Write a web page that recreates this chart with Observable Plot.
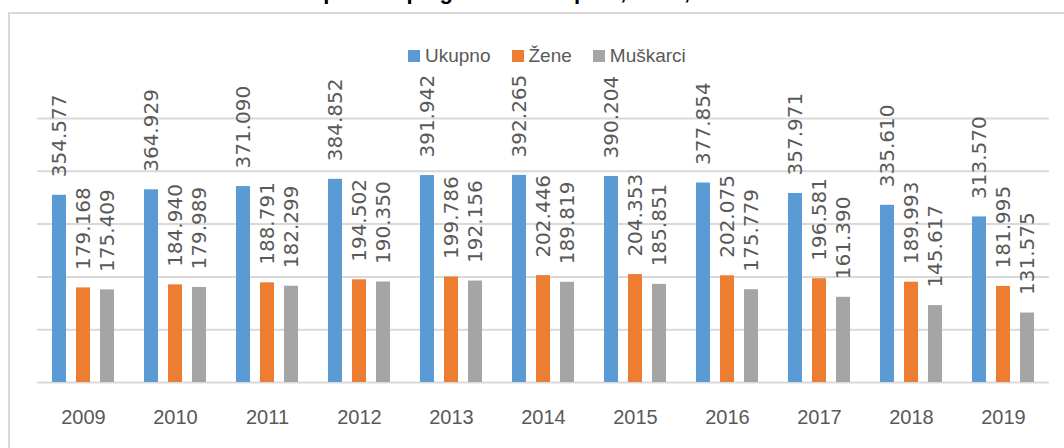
<!DOCTYPE html>
<html><head><meta charset="utf-8">
<script src="https://cdn.jsdelivr.net/npm/d3@7"></script>
<script src="https://cdn.jsdelivr.net/npm/@observablehq/plot@0.6"></script>
<style>
body{margin:0;background:#fff;}
#wrap{position:relative;width:1064px;height:448px;overflow:hidden;background:#fff;}
#title{position:absolute;left:272px;top:-21px;font:bold 22px "Liberation Sans",sans-serif;color:#000;white-space:nowrap;line-height:25px;}
#frame{position:absolute;left:8px;top:12px;width:1100px;height:500px;border:2px solid #d9d9d9;box-sizing:border-box;}
#chart{position:absolute;left:0;top:0;}
#legend{position:absolute;top:45px;left:408px;display:flex;align-items:center;font:19px "Liberation Sans",sans-serif;color:#595959;}
#legend .item{display:flex;align-items:center;margin-right:21px;}
#legend .sw{width:12px;height:12px;margin-right:5px;}
</style>
</head><body>
<div id="wrap">
  <div id="title">Nezaposleni po godinama i spolu, FBiH, 2009-2019</div>
  <div id="frame"></div>
  <div id="chart"></div>
  <div id="legend"></div>
</div>
<script>
const years = ["2009","2010","2011","2012","2013","2014","2015","2016","2017","2018","2019"];
const ukupno = [354577, 364929, 371090, 384852, 391942, 392265, 390204, 377854, 357971, 335610, 313570];
const zene = [179168, 184940, 188791, 194502, 199786, 202446, 204353, 202075, 196581, 189993, 181995];
const muskarci = [175409, 179989, 182299, 190350, 192156, 189819, 185851, 175779, 161390, 145617, 131575];
const series = ["Ukupno", "Žene", "Muškarci"];
const colors = ["#5B9BD5", "#ED7D31", "#A5A5A5"];
const gridTicks = [0, 100000, 200000, 300000, 400000, 500000];

const valuesBySeries = [ukupno, zene, muskarci];
const rows = [];
years.forEach((yr, i) => {
  series.forEach((s, j) => rows.push({year: yr, series: s, value: valuesBySeries[j][i]}));
});
const fmt = v => d3.format(",")(v).replace(/,/g, ".");

const chart = Plot.plot({
  width: 1064, height: 448,
  marginLeft: 35, marginRight: 13, marginTop: 118, marginBottom: 66,
  fx: {domain: years, paddingInner: 0, paddingOuter: 0, label: null, axis: null},
  x: {domain: series, paddingInner: 0.4, paddingOuter: 0.547, axis: null},
  y: {domain: [0, 500000], axis: null},
  color: {domain: series, range: colors},
  marks: [
    Plot.ruleY(gridTicks, {stroke: "#d9d9d9", strokeWidth: 2}),
    Plot.barY(rows, {fx: "year", x: "series", y: "value", fill: "series"}),
    Plot.text(rows, {fx: "year", x: "series", y: "value", text: d => fmt(d.value), rotate: -90, textAnchor: "start", dy: -18, fontSize: 20, fontFamily: "DejaVu Sans", fill: "#595959"}),
    Plot.axisFx({anchor: "bottom", tickSize: 0, tickPadding: 27, fontSize: 20, fontFamily: "Liberation Sans", fill: "#595959", label: null})
  ]
});
document.getElementById("chart").appendChild(chart);

const legend = document.getElementById("legend");
series.forEach((s, j) => {
  const item = document.createElement("div");
  item.className = "item";
  const sw = document.createElement("div");
  sw.className = "sw";
  sw.style.background = colors[j];
  const t = document.createElement("span");
  t.textContent = s;
  item.appendChild(sw); item.appendChild(t);
  legend.appendChild(item);
});
</script>
</body></html>
